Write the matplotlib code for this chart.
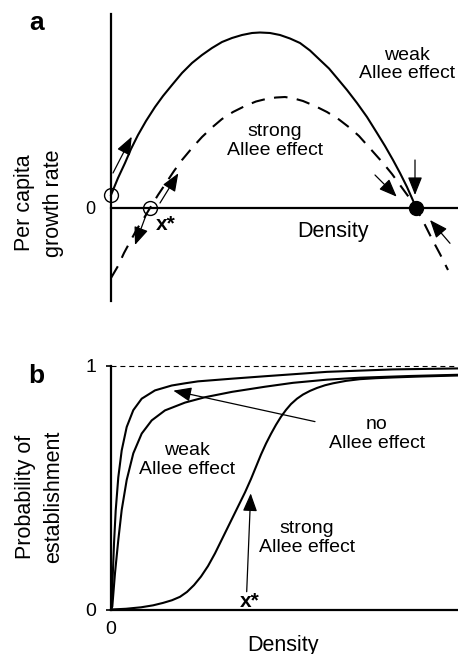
import matplotlib
matplotlib.use('Agg')
import matplotlib.pyplot as plt

plt.rcParams['font.family'] = ['Liberation Sans', 'DejaVu Sans']

# panel a: per capita growth rate vs density (arbitrary units)
weak_a_x = [0, 7, 14, 20, 27, 35, 44, 52, 61, 71, 81, 91, 101, 111, 121, 131, 141, 149, 159, 169,
            179, 189, 199, 209, 218, 226, 236, 246, 256, 266, 274, 282, 289, 296, 300, 304, 305]
weak_a_y = [13, 30, 45, 59, 73, 87, 101, 112, 123, 135, 145, 153, 160, 166, 170, 173, 175, 175.5, 175, 173,
            169.5, 165, 157.5, 148, 139.5, 130, 118, 105, 91, 75, 62, 48, 35, 21, 12, 3, 0]
strong_a_x = [0, 7, 13, 20, 26, 33, 39, 47, 55, 63, 71, 81, 91, 101, 111, 122, 134, 145, 155, 165, 174,
              183, 192, 204, 216, 228, 239, 248, 256, 264, 272, 281, 289, 297, 305, 313, 321, 329, 337]
strong_a_y = [-70, -58, -45, -32, -21, -10, 0, 13, 25, 37, 48, 60, 71, 80.5, 89, 96, 102, 106.5, 109, 110.5, 111,
              109.5, 107, 102, 96, 88.5, 80, 72, 63, 54, 45, 34, 23, 12, 0, -15, -31, -46, -62]
unstable_x = [0, 39]
unstable_y = [13, 0]
stable_x = [305]
stable_y = [0]

# panel b: probability of establishment vs density
no_x = [0, 0.7, 1.7, 3, 4.7, 7.3, 10.7, 15.7, 22.3, 30.7, 44, 60.7, 74, 87, 121, 154, 216, 282, 347]
no_y = [0, 0.011, 0.134, 0.27, 0.406, 0.542, 0.652, 0.748, 0.817, 0.864, 0.898, 0.918, 0.927,
        0.935, 0.946, 0.956, 0.974, 0.984, 0.988]
weak_b_x = [0, 1.3, 4, 7.3, 10.7, 15.7, 22.3, 30.7, 40.7, 54, 74, 94, 121, 154, 182, 216, 249, 299, 347]
weak_b_y = [0, 0.012, 0.149, 0.285, 0.408, 0.531, 0.64, 0.721, 0.775, 0.816, 0.848, 0.87, 0.892,
            0.913, 0.929, 0.942, 0.95, 0.957, 0.962]
strong_b_x = [0, 15, 30, 42, 52, 61, 69, 76, 83, 90, 97, 104, 110, 116, 122, 128, 134, 140, 145, 150,
              155, 160, 165, 170, 175, 180, 186, 192, 199, 206, 214, 222, 235, 249, 265, 282, 310, 347]
strong_b_y = [0, 0.003, 0.009, 0.017, 0.027, 0.038, 0.052, 0.072, 0.1, 0.135, 0.178, 0.23, 0.28, 0.33,
              0.38, 0.43, 0.48, 0.535, 0.585, 0.635, 0.68, 0.72, 0.757, 0.79, 0.818, 0.842, 0.864, 0.881,
              0.896, 0.908, 0.919, 0.927, 0.937, 0.944, 0.948, 0.951, 0.955, 0.959]

arrow = dict(arrowstyle='-|>,head_length=0.55,head_width=0.22', mutation_scale=20,
             lw=0.9, color='k', shrinkA=0, shrinkB=0)
txt = dict(fontsize=14, ha='center', va='center', linespacing=1.15)

fig = plt.figure(figsize=(4.58, 6.54), dpi=100)

# ---- panel a ----
ax = fig.add_axes([111 / 458, 1 - 301 / 654, 347 / 458, 287 / 654])
ax.set_xlim(0, 347)
ax.set_ylim(-93, 194)
for s in ['top', 'right']:
    ax.spines[s].set_visible(False)
ax.spines['bottom'].set_position(('data', 0))
ax.spines['left'].set_linewidth(1.6)
ax.spines['bottom'].set_linewidth(1.6)
ax.set_xticks([])
ax.set_yticks([])

ax.plot(weak_a_x, weak_a_y, color='k', lw=1.5, clip_on=False)
ax.plot(strong_a_x, strong_a_y, color='k', lw=1.5, dashes=(6.5, 4.5), clip_on=False)
ax.plot(unstable_x, unstable_y, 'o', ms=10, mfc='none', mec='k', mew=1.0, clip_on=False, zorder=5)
ax.plot(stable_x, stable_y, 'o', ms=10, color='k', clip_on=False, zorder=5)

for tail, head in [((2, 35), (20.7, 71.3)), ((49, 5), (67.3, 34.7)), ((35.7, -5.3), (24, -37)),
                   ((264, 33), (285.7, 11.3)), ((304, 48), (304, 13)), ((339, -35.3), (319, -12))]:
    ax.annotate('', xy=head, xytext=tail, arrowprops=arrow, annotation_clip=False)

ax.text(296, 143.5, 'weak\nAllee effect', **txt)
ax.text(164, 66.7, 'strong\nAllee effect', **txt)
ax.text(222, -23.7, 'Density', fontsize=15.5, ha='center', va='center')
ax.text(54.7, -16.3, 'x*', fontsize=15, fontweight='bold', ha='center', va='center')
ax.text(-21, -1, '0', fontsize=13, ha='center', va='center')

fig.text(36.7 / 458, 1 - 23.3 / 654, 'a', fontsize=19, fontweight='bold', ha='center', va='center')
fig.text(39 / 458, 1 - 203 / 654, 'Per capita\ngrowth rate', fontsize=15.5, rotation=90,
         ha='center', va='center', multialignment='center', linespacing=1.45)

# ---- panel b ----
bx = fig.add_axes([111 / 458, 1 - 609.5 / 654, 347 / 458, 244 / 654])
bx.set_xlim(0, 347)
bx.set_ylim(0, 1)
for s in ['top', 'right']:
    bx.spines[s].set_visible(False)
bx.spines['left'].set_linewidth(1.6)
bx.spines['bottom'].set_linewidth(1.6)
bx.set_yticks([0, 1])
bx.set_yticklabels(['0', '1'], fontsize=14)
bx.tick_params(axis='y', direction='out', length=3.6, width=1.2, pad=7)
bx.set_xticks([0])
bx.set_xticklabels(['0'], fontsize=14)
bx.tick_params(axis='x', length=0, pad=8)

bx.axhline(1, color='k', lw=0.8, dashes=(4.5, 3.5), clip_on=False)
bx.plot(no_x, no_y, color='k', lw=1.5, clip_on=False)
bx.plot(weak_b_x, weak_b_y, color='k', lw=1.5, clip_on=False)
bx.plot(strong_b_x, strong_b_y, color='k', lw=1.5, clip_on=False)

bx.annotate('', xy=(62.3, 0.897), xytext=(204, 0.77), arrowprops=arrow)
bx.annotate('', xy=(139.7, 0.476), xytext=(135.7, 0.073), arrowprops=arrow)

bx.text(75.7, 0.611, 'weak\nAllee effect', **txt)
bx.text(265.7, 0.718, 'no\nAllee effect', **txt)
bx.text(195.7, 0.293, 'strong\nAllee effect', **txt)
bx.text(139, 0.032, 'x*', fontsize=15, fontweight='bold', ha='center', va='center')

fig.text(282.7 / 458, 1 - 645 / 654, 'Density', fontsize=15.5, ha='center', va='center')
fig.text(36.7 / 458, 1 - 376 / 654, 'b', fontsize=19, fontweight='bold', ha='center', va='center')
fig.text(40 / 458, 1 - 497 / 654, 'Probability of\nestablishment', fontsize=15.5, rotation=90,
         ha='center', va='center', multialignment='center', linespacing=1.45)

fig.savefig('out.png', dpi=100)
